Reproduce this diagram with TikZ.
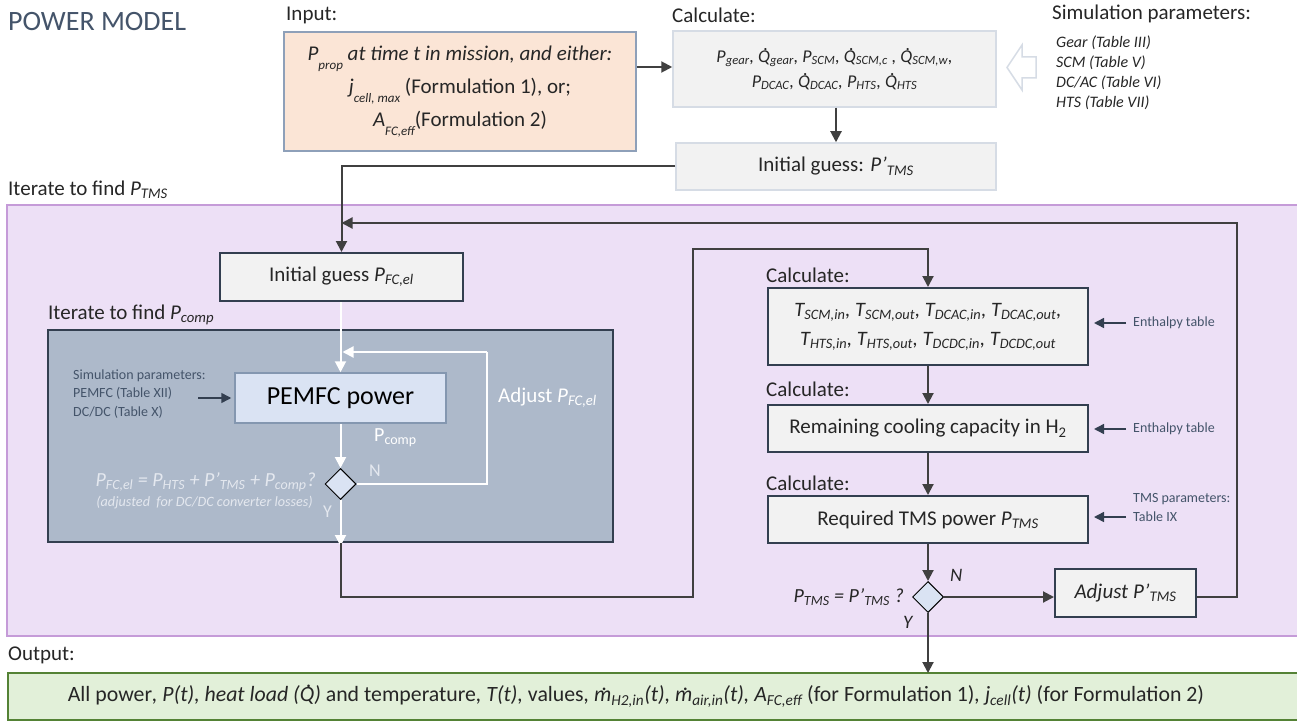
\documentclass[tikz,border=0pt]{standalone}
\usepackage{fontspec}
\setmainfont{Carlito}
\usetikzlibrary{arrows.meta,shapes.geometric,calc}
\definecolor{cText}{HTML}{262626}
\definecolor{cTitle}{HTML}{44546A}
\definecolor{cLine}{HTML}{404040}
\definecolor{cNavy}{HTML}{333F50}
\definecolor{cGray}{HTML}{F2F2F2}
\definecolor{cLightB}{HTML}{D6DCE5}
\definecolor{cPeach}{HTML}{FBE5D6}
\definecolor{cPeachB}{HTML}{8EA0B9}
\definecolor{cPurple}{HTML}{EDE0F6}
\definecolor{cPurpleB}{HTML}{C59BD8}
\definecolor{cSlate}{HTML}{ADB9CA}
\definecolor{cPale}{HTML}{DAE3F3}
\definecolor{cPaleB}{HTML}{8497B0}
\definecolor{cGreen}{HTML}{E2F0D9}
\definecolor{cGreenB}{HTML}{548235}
\definecolor{cGhost}{HTML}{E4E8EF}
\newcommand\fsz[2]{\fontsize{#1}{#2}\selectfont}
\newcommand\sbs[1]{\textsubscript{#1}}
\newcommand\lsb[1]{\raisebox{-0.42em}{\fsz{13}{13}#1}}
\newcommand\Qd{\mbox{\rlap{\kern0.3em\raisebox{0.66em}{.}}Q}}
\newcommand\md{\mbox{\rlap{\kern0.36em\raisebox{0.5em}{.}}m}}
\tikzset{
  lbl/.style={anchor=west, inner sep=0pt, text=cText, font=\fsz{21}{25}},
  darkbox/.style={draw=cNavy, line width=2pt, fill=cGray, inner sep=0pt, text=cText, font=\fsz{21}{25}, align=center},
  lightbox/.style={draw=cLightB, line width=1.5pt, fill=cGray, inner sep=0pt, text=cText, font=\fsz{21}{25}, align=center},
  arr/.style={draw=cLine, line width=2pt, -{Triangle[length=11pt,width=11pt]}},
  warr/.style={draw=white, line width=2pt, -{Triangle[length=11pt,width=11pt]}},
  sarr/.style={draw=cNavy, line width=1.5pt, -{Triangle[length=10pt,width=10pt]}},
  note/.style={anchor=west, inner sep=0pt, text=cTitle, font=\fsz{14}{17}},
  dia/.style={diamond, draw=black, line width=1pt, fill=cPale, inner sep=0pt, minimum width=31pt, minimum height=31pt},
}
\begin{document}
\begin{tikzpicture}[x=1pt,y=-1pt]
\useasboundingbox[fill=white] (0,0) rectangle (1297,722);

% title
\node[anchor=west, inner sep=0pt, text=cTitle, font=\fsz{28}{32}] (title) at (8,22) {POWER MODEL};

% input
\node[lbl] (inlbl) at (286,15) {Input:};
\node[draw=cPeachB, line width=1.5pt, fill=cPeach, inner sep=0pt, minimum width=352pt, minimum height=119pt, text=cText, font=\fsz{21}{33}, align=center] (inbox) at (460,91.5)
  {\textit{P\lsb{prop} at time t in mission, and either:}\\
   \textit{j\lsb{cell, max}} (Formulation 1), or;\\
   \textit{A\lsb{FC,eff}}(Formulation 2)};

% calculate top
\node[lbl] (calclbl) at (672,15) {Calculate:};
\node[lightbox, minimum width=323pt, minimum height=76pt, font=\fsz{18}{25}] (calc) at (834.5,69)
  {\textit{P\sbs{gear}, \Qd\sbs{gear}, P\sbs{SCM}, \Qd\sbs{SCM,c} , \Qd\sbs{SCM,w},}\\
   \textit{P\sbs{DCAC}, \Qd\sbs{DCAC}, P\sbs{HTS}, \Qd\sbs{HTS}}};
\node[lightbox, minimum width=320pt, minimum height=47pt] (initP) at (836,166.5)
  {Initial guess: \textit{P’\sbs{TMS}}};

\draw[arr] (inbox.east |- 0,67) -- (calc.west |- 0,67);
\draw[arr] (initP.north |- calc.south) -- (initP.north);

% simulation parameters (top right)
\node[lbl] (simlbl) at (1052,14) {Simulation parameters:};
\node[anchor=west, inner sep=0pt, text=cText, font=\fsz{16}{20}\itshape, align=left] (simlist) at (1056,73)
  {Gear (Table III)\\SCM (Table V)\\DC/AC (Table VI)\\HTS (Table VII)};
\draw[draw=cLightB, line width=1.5pt, fill=white, line join=miter]
  (1007,67.5) -- (1022,45) -- (1022,57) -- (1036,57) -- (1036,78) -- (1022,78) -- (1022,90) -- cycle;

% purple region
\node[lbl] (itlbl) at (8,190) {Iterate to find \textit{P\sbs{TMS}}};
\path[draw=cPurpleB, fill=cPurple, line width=2pt] (7,205) rectangle (1305,636);

% initial guess PFC
\node[darkbox, minimum width=243pt, minimum height=48pt] (initFC) at (341.5,277)
  {Initial guess \textit{P\sbs{FC,el}}};
\coordinate (merge) at (341.5,223);
\draw[arr] (initP.west) -| (initFC.north);

% inner loop box
\node[lbl] (pclbl) at (48,315) {Iterate to find \textit{P\sbs{comp}}};
\node[draw=cNavy, line width=2pt, fill=cSlate, inner sep=0pt, minimum width=565pt, minimum height=212pt] (dbox) at (330.5,436) {};
\node[draw=cPaleB, line width=1.5pt, fill=cPale, inner sep=0pt, minimum width=211pt, minimum height=50pt, text=black, font=\fsz{26}{30}] (pemfc) at (340.5,398) {PEMFC power};
\node[note, font=\fsz{14}{18.5}, align=left, text=cTitle] (simp) at (73,394)
  {Simulation parameters:\\PEMFC (Table XII)\\DC/DC (Table X)};
\coordinate (simtail) at (198,398);
\draw[sarr] (simtail) -- ([xshift=-3pt]pemfc.west);
\draw[warr] (pemfc.north |- initFC.south) -- (pemfc.north);
\node[anchor=west, inner sep=0pt, text=white, font=\fsz{20}{24}] (pcomp) at (374,438) {P\sbs{comp}};
\node[dia] (d1) at (340.5,484) {};
\draw[warr] (pemfc.south -| d1.north) -- (d1.north);
\coordinate (m2) at (340.5,352);
\draw[white, line width=2pt] (d1.east) -- (487,484) -- (487,352);
\draw[warr] (487,352) -- ([xshift=2pt]m2);
\node[anchor=west, inner sep=0pt, text=cGhost, font=\fsz{18}{22}] (nlbl) at (369,471) {N};
\node[anchor=west, inner sep=0pt, text=cGhost, font=\fsz{18}{22}] (ylbl) at (323,512) {Y};
\node[anchor=east, inner sep=0pt, text=cGhost, font=\fsz{20}{24}\itshape] (feq) at (316,482)
  {P\sbs{FC,el} = P\sbs{HTS} + P’\sbs{TMS} + P\sbs{comp}?};
\node[anchor=east, inner sep=0pt, text=cGhost, font=\fsz{14.2}{17}\itshape] (fadj) at (313,503)
  {(adjusted\ \ for DC/DC converter losses)};
\draw[warr] (d1.south) -- ([yshift=-3pt]d1.south |- dbox.south);
\node[anchor=west, inner sep=0pt, text=white, font=\fsz{21}{25}] (adjfc) at (498,398) {Adjust \textit{P\sbs{FC,el}}};

% right column
\node[lbl] (c1) at (766,275) {Calculate:};
\node[darkbox, minimum width=320pt, minimum height=77pt, font=\fsz{20.5}{29}\itshape] (tbox) at (928,326.5)
  {T\sbs{SCM,in}, T\sbs{SCM,out}, T\sbs{DCAC,in}, T\sbs{DCAC,out},\\
   T\sbs{HTS,in}, T\sbs{HTS,out}, T\sbs{DCDC,in}, T\sbs{DCDC,out}};
\node[lbl] (c2) at (766,389) {Calculate:};
\node[darkbox, minimum width=320pt, minimum height=47pt] (rem) at (928,428.5)
  {Remaining cooling capacity in H\sbs{2}};
\node[lbl] (c3) at (766,483) {Calculate:};
\node[darkbox, minimum width=320pt, minimum height=47pt] (req) at (928,519.5)
  {Required TMS power \textit{P\sbs{TMS}}};
\node[dia] (d2) at (928,597) {};
\node[darkbox, minimum width=141pt, minimum height=48pt, font=\fsz{21}{25}\itshape] (adjP) at (1125.5,593)
  {Adjust P’\sbs{TMS}};

\coordinate (bl) at (693,597);
\coordinate (tl) at (693,249);
\draw[arr] (d1.south |- dbox.south) |- (bl) -- (tl) -| (tbox.north);
\draw[arr] (tbox.south) -- (rem.north);
\draw[arr] (rem.south) -- (req.north);
\draw[arr] (req.south) -- (d2.north);
\draw[arr] (d2.east) -- (d2.east -| adjP.west);
\draw[arr] (adjP.east |- d2.east) -- (1237,597) |- (merge);

\node[anchor=east, inner sep=0pt, text=cText, font=\fsz{20}{24}\itshape] (deq) at (904,597)
  {P\sbs{TMS} = P’\sbs{TMS} ?};
\node[anchor=west, inner sep=0pt, text=cText, font=\fsz{19}{23}\itshape] (n2) at (950,575) {N};
\node[anchor=west, inner sep=0pt, text=cText, font=\fsz{19}{23}\itshape] (y2) at (903,622) {Y};

% side notes
\coordinate (e1) at (1126,323);
\coordinate (e2) at (1126,429);
\coordinate (e3) at (1126,517);
\draw[sarr] (e1) -- ([xshift=5pt]tbox.east |- e1);
\draw[sarr] (e2) -- ([xshift=5pt]rem.east |- e2);
\draw[sarr] (e3) -- ([xshift=5pt]req.east |- e3);
\node[note] (en1) at (1133,323) {Enthalpy table};
\node[note] (en2) at (1133,429) {Enthalpy table};
\node[note, align=left, font=\fsz{14}{19}] (tmsp) at (1133,507.5) {TMS parameters:\\Table IX};

% output
\node[lbl] (outlbl) at (8,655) {Output:};
\path[draw=cGreenB, fill=cGreen, line width=2pt] (8,673) rectangle (1305,720);
\node[inner sep=0pt, text=cText, font=\fsz{21.8}{25}] (outtxt) at (636,696)
  {All power\textit{, P(t), heat load (\Qd)} and temperature\textit{, T(t),} values\textit{, \md\sbs{H2,in}(t), \md\sbs{air,in}(t), A\sbs{FC,eff}} (for Formulation 1)\textit{, j\sbs{cell}(t)} (for Formulation 2)};
\coordinate (outtop) at (928,673);
\draw[arr] (d2.south) -- (outtop);
\end{tikzpicture}
\end{document}
